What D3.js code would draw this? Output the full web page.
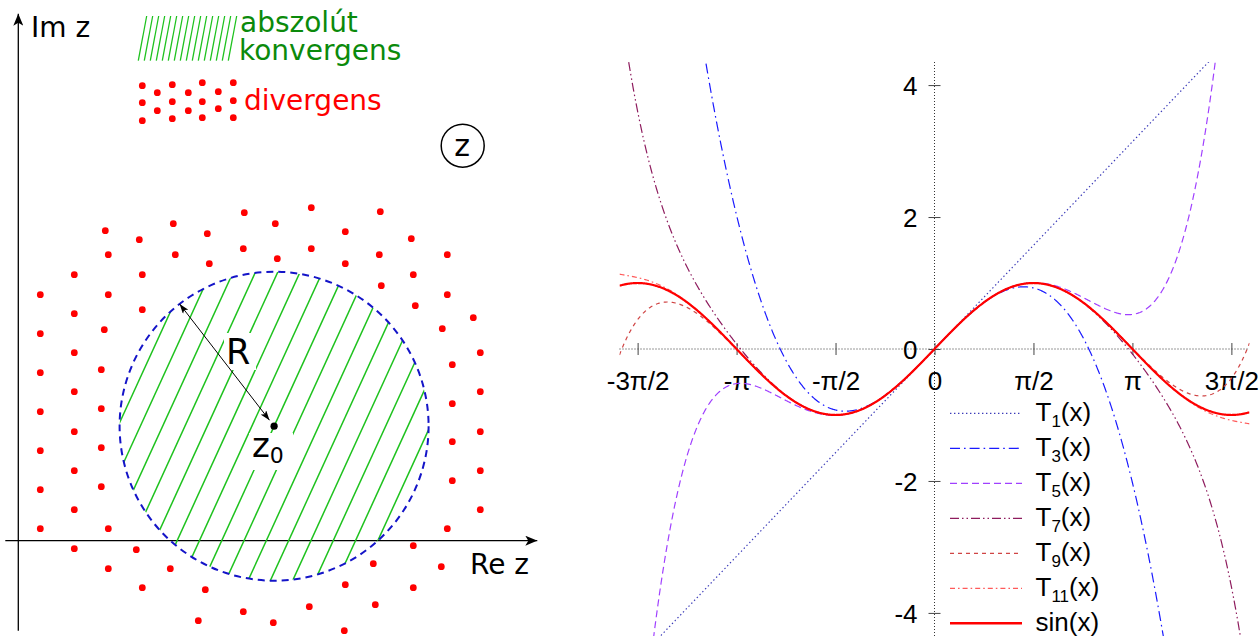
<!DOCTYPE html>
<html>
<head>
<meta charset="utf-8">
<script src="https://cdn.jsdelivr.net/npm/d3@7"></script>
<style>
  html, body { margin: 0; padding: 0; background: #fff; }
  svg { display: block; }
</style>
</head>
<body>
<svg id="chart" width="1260" height="636"></svg>
<script>
// ===================== Left panel: disc of convergence =====================
// Complex-plane units: 1 unit = 10 px, origin where the axes cross.
const divergentPoints = [
  [8.7,31.0],[12.1,30.1],[15.5,31.7],[18.9,30.7],[22.6,32.8],[25.7,31.7],[29.3,33.3],[32.7,30.9],[36.2,32.9],[39.3,30.2],
  [9.0,28.6],[15.7,28.6],[19.1,27.7],[22.5,29.2],[25.9,28.2],[29.3,29.2],[32.7,27.7],[36.1,28.6],[42.9,28.6],
  [5.6,26.6],[12.4,26.6],[39.5,26.6],
  [2.2,24.6],[9.0,24.6],[36.3,25.5],[42.9,24.6],
  [5.6,22.7],[12.4,23.1],[39.7,23.5],[45.5,22.3],
  [2.2,20.7],[8.6,21.1],[42.4,21.2],
  [5.6,18.8],[46.2,18.8],
  [2.2,16.8],[8.3,17.1],[43.4,17.6],
  [5.6,14.9],[46.2,14.9],
  [2.2,12.9],[8.3,13.2],[43.4,13.7],
  [5.6,10.9],[46.2,10.9],
  [2.2,9.0],[8.3,9.3],[43.4,9.9],
  [5.6,7.0],[46.2,7.0],
  [2.2,5.1],[8.3,5.4],[43.4,6.0],
  [5.6,3.1],[46.2,3.1],
  [2.2,1.2],[9.0,1.2],[42.9,1.2],
  [5.6,-0.8],[11.8,-0.9],[39.5,-0.5],
  [9.0,-2.8],[15.2,-2.8],[35.5,-2.3],[42.3,-2.6],
  [12.4,-4.7],[18.7,-4.9],[32.7,-4.4],[39.5,-4.7],
  [18.0,-8.0],[22.5,-7.1],[25.5,-8.2],[29.1,-6.6],[35.7,-6.4],[32.6,-9.0]
];
// dotted swatch next to "divergens"
const legendDots = [
  [12.4,45.5],[13.9,44.8],[15.4,45.6],[17.0,44.8],[18.4,45.8],[20.0,44.9],[21.5,45.8],
  [12.4,43.8],[15.4,43.9],[18.4,43.9],[21.5,44.0],
  [13.9,43.0],[17.0,43.0],[20.0,43.2],
  [12.4,42.0],[15.4,42.2],[18.4,42.3],[21.5,42.3]
];
const discCenter = [25.58, 11.45];   // z0
const discRadius = 15.45;            // R
const radiusAngle = 127.7;           // direction of the R arrow, degrees
const hatchAngle = 65.4;             // degrees
const hatchSpacing = 2.23;           // along the real axis
const hatchStart = 27.03;            // crossing of one hatch line with Re axis

// ===================== Right panel: Taylor polynomials of sin =====================
const sinCoefficients = [1, -1/6, 1/120, -1/5040, 1/362880, -1/39916800];
const seriesOrders = [1, 3, 5, 7, 9, 11];
const seriesColors = ["#3a3ab8", "#1a1aff", "#a040ff", "#8e1c5e", "#d04545", "#ff5a5a"];
const seriesDashes = ["1.4,2.6", "10,4,1.6,4", "7,4", "9,3,1.5,3,1.5,3", "4,4", "5,3,1.6,3"];
const xTickValues = [-3*Math.PI/2, -Math.PI, -Math.PI/2, 0, Math.PI/2, Math.PI, 3*Math.PI/2];
const xTickLabels = ["-3π/2", "-π", "-π/2", "0", "π/2", "π", "3π/2"];
const yTickValues = [4, 2, 0, -2, -4];
const yTickLabels = ["4", "2", "0", "-2", "-4"];

const svg = d3.select("#chart");
const defs = svg.append("defs");

// ---------- left panel ----------
const re = d3.scaleLinear().domain([0, 1]).range([18.3, 28.3]);
const im = d3.scaleLinear().domain([0, 1]).range([540.7, 530.7]);
const left = svg.append("g");
const leftFont = "'DejaVu Sans', sans-serif";

defs.append("marker").attr("id", "axisHead")
  .attr("viewBox", "0 0 12 10").attr("refX", 12).attr("refY", 5)
  .attr("markerWidth", 12).attr("markerHeight", 10).attr("markerUnits", "userSpaceOnUse")
  .attr("orient", "auto")
  .append("path").attr("d", "M0,0 L12,5 L0,10 L3,5 Z").attr("fill", "#000");
defs.append("marker").attr("id", "radiusHead")
  .attr("viewBox", "0 0 10 7").attr("refX", 10).attr("refY", 3.5)
  .attr("markerWidth", 10).attr("markerHeight", 7).attr("markerUnits", "userSpaceOnUse")
  .attr("orient", "auto-start-reverse")
  .append("path").attr("d", "M0,0 L10,3.5 L0,7 L2.5,3.5 Z").attr("fill", "#000");

// axes
left.append("line")
  .attr("x1", re(0)).attr("y1", im(-9)).attr("x2", re(0)).attr("y2", im(52.7))
  .attr("stroke", "#000").attr("stroke-width", 1.3).attr("marker-end", "url(#axisHead)");
left.append("line")
  .attr("x1", re(-1.3)).attr("y1", im(0)).attr("x2", re(51.9)).attr("y2", im(0))
  .attr("stroke", "#000").attr("stroke-width", 1.3).attr("marker-end", "url(#axisHead)");

// hatched disc
const cx = re(discCenter[0]), cy = im(discCenter[1]);
const rPx = re(discRadius) - re(0);
defs.append("clipPath").attr("id", "discClip")
  .append("circle").attr("cx", cx).attr("cy", cy).attr("r", rPx);
const hatch = left.append("g").attr("clip-path", "url(#discClip)");
const ha = hatchAngle * Math.PI / 180;
const hatchOffsets = d3.range(-13, 14).map(k => hatchStart + k * hatchSpacing);
hatch.selectAll("line").data(hatchOffsets).join("line")
  .attr("x1", d => re(d - 40 * Math.cos(ha))).attr("y1", im(-40 * Math.sin(ha)))
  .attr("x2", d => re(d + 40 * Math.cos(ha))).attr("y2", im(40 * Math.sin(ha)))
  .attr("stroke", "#1ec21e").attr("stroke-width", 1.5);

// clear space around the labels inside the disc
left.append("rect").attr("x", 224).attr("y", 333).attr("width", 32).attr("height", 37).attr("fill", "#fff");
left.append("rect").attr("x", 249).attr("y", 433).attr("width", 44).attr("height", 37).attr("fill", "#fff");

left.append("circle").attr("cx", cx).attr("cy", cy).attr("r", rPx)
  .attr("fill", "none").attr("stroke", "#1414c8").attr("stroke-width", 2)
  .attr("stroke-dasharray", "7,5");

// divergent region dots
left.append("g").selectAll("circle").data(divergentPoints.concat(legendDots)).join("circle")
  .attr("cx", d => re(d[0])).attr("cy", d => im(d[1])).attr("r", 3.4).attr("fill", "#ff0000");

// radius arrow
const ra = radiusAngle * Math.PI / 180;
left.append("line")
  .attr("x1", re(discCenter[0] + 0.75 * Math.cos(ra))).attr("y1", im(discCenter[1] + 0.75 * Math.sin(ra)))
  .attr("x2", re(discCenter[0] + discRadius * Math.cos(ra))).attr("y2", im(discCenter[1] + discRadius * Math.sin(ra)))
  .attr("stroke", "#000").attr("stroke-width", 1)
  .attr("marker-start", "url(#radiusHead)").attr("marker-end", "url(#radiusHead)");
left.append("circle").attr("cx", cx).attr("cy", cy).attr("r", 3.6).attr("fill", "#000");

// hatched swatch next to "abszolút konvergens"
const swatch = d3.range(16);
left.append("g").selectAll("line").data(swatch).join("line")
  .attr("x1", k => 138.3 + 6 * k).attr("y1", 60.7)
  .attr("x2", k => 146.7 + 6 * k).attr("y2", 16)
  .attr("stroke", "#1ec21e").attr("stroke-width", 1.3);

// labels
const ltext = (x, y, s, size, color) => left.append("text")
  .attr("x", x).attr("y", y).attr("font-family", leftFont).attr("font-size", size)
  .attr("fill", color || "#000").text(s);
ltext(31, 37, "Im z", 28);
ltext(470, 574, "Re z", 28);
const conv = left.append("text").attr("x", 240).attr("y", 32)
  .attr("font-family", leftFont).attr("font-size", 28).attr("fill", "#0b8a0b");
conv.append("tspan").attr("x", 240).text("abszolút");
conv.append("tspan").attr("x", 239).attr("dy", 27.5).text("konvergens");
ltext(244, 110, "divergens", 28, "#ff0000");
ltext(226, 364, "R", 35);
const z0 = left.append("text").attr("x", 252).attr("y", 457)
  .attr("font-family", leftFont).attr("font-size", 34);
z0.append("tspan").text("z");
z0.append("tspan").attr("font-size", 22).attr("dy", 6).text("0");

left.append("circle").attr("cx", 462.7).attr("cy", 145.7).attr("r", 21.5)
  .attr("fill", "none").attr("stroke", "#000").attr("stroke-width", 1.5);
left.append("text").attr("x", 462.2).attr("y", 155.5).attr("text-anchor", "middle")
  .attr("font-family", leftFont).attr("font-size", 30).text("z");

// ---------- right panel ----------
const x = d3.scaleLinear().domain([-5, 5]).range([619.5, 1249.5]);
const y = d3.scaleLinear().domain([-4.35, 4.35]).range([636, 62]);
const right = svg.append("g");
const rightFont = "'Liberation Sans', Arial, sans-serif";

// zero axes
right.append("line").attr("x1", x(-5)).attr("x2", x(5)).attr("y1", y(0)).attr("y2", y(0))
  .attr("stroke", "#333").attr("stroke-width", 1).attr("stroke-dasharray", "1,2");
right.append("line").attr("x1", x(0)).attr("x2", x(0)).attr("y1", y(4.35)).attr("y2", y(-4.35))
  .attr("stroke", "#333").attr("stroke-width", 1).attr("stroke-dasharray", "1,2");

// ticks and tick labels
const xAxis = d3.axisBottom(x).tickValues(xTickValues).tickSize(0)
  .tickFormat((d, i) => xTickLabels[i]);
const gx = right.append("g").attr("transform", `translate(0,${y(0)})`).call(xAxis);
gx.select(".domain").remove();
gx.selectAll(".tick text").attr("font-family", rightFont).attr("font-size", 26)
  .attr("fill", "#000").attr("dy", 0).attr("y", 41);
gx.selectAll(".tick").append("line").attr("y1", -6).attr("y2", 6)
  .attr("stroke", "#444").attr("stroke-width", 1);

const yAxis = d3.axisLeft(y).tickValues(yTickValues).tickSize(0)
  .tickFormat((d, i) => yTickLabels[i]);
const gy = right.append("g").attr("transform", `translate(${x(0)},0)`).call(yAxis);
gy.select(".domain").remove();
gy.selectAll(".tick text").attr("font-family", rightFont).attr("font-size", 26)
  .attr("fill", "#000").attr("x", -17).attr("dy", "0.35em");
gy.selectAll(".tick").append("line").attr("x1", -6).attr("x2", 6)
  .attr("stroke", "#444").attr("stroke-width", 1);

// curves
defs.append("clipPath").attr("id", "plotClip")
  .append("rect").attr("x", x(-5)).attr("y", y(4.35))
  .attr("width", x(5) - x(-5)).attr("height", y(-4.35) - y(4.35));
const samples = d3.range(-5, 5.0001, 0.01);
const taylor = (order, t) => {
  let s = 0;
  for (let k = 0; 2 * k + 1 <= order; k++) s += sinCoefficients[k] * Math.pow(t, 2 * k + 1);
  return s;
};
const line = d3.line().x(d => x(d[0])).y(d => y(d[1]));
const curves = right.append("g").attr("clip-path", "url(#plotClip)").attr("fill", "none");
seriesOrders.forEach((n, i) => {
  curves.append("path").datum(samples.map(t => [t, taylor(n, t)]))
    .attr("d", line).attr("stroke", seriesColors[i]).attr("stroke-width", 1.2)
    .attr("stroke-dasharray", seriesDashes[i]);
});
curves.append("path").datum(samples.map(t => [t, Math.sin(t)]))
  .attr("d", line).attr("stroke", "#ff0000").attr("stroke-width", 2.2);

// legend
const legend = right.append("g");
const legendY = d3.scaleLinear().domain([0, 1]).range([413.3, 448.3]);
const entries = seriesOrders.map((n, i) => ({ sub: String(n), color: seriesColors[i], dash: seriesDashes[i], w: 1.3 }))
  .concat([{ sub: null, color: "#ff0000", dash: null, w: 2.4 }]);
entries.forEach((e, i) => {
  const ly = legendY(i);
  legend.append("line").attr("x1", 950).attr("x2", 1022).attr("y1", ly).attr("y2", ly)
    .attr("stroke", e.color).attr("stroke-width", e.w)
    .attr("stroke-dasharray", e.dash || null);
  const t = legend.append("text").attr("x", 1035.5).attr("y", ly + 8)
    .attr("font-family", rightFont).attr("font-size", 26).attr("fill", "#000");
  if (e.sub) {
    t.append("tspan").text("T");
    t.append("tspan").attr("font-size", 17).attr("dy", 6).text(e.sub);
    t.append("tspan").attr("dy", -6).text("(x)");
  } else {
    t.text("sin(x)");
  }
});
</script>
</body>
</html>
